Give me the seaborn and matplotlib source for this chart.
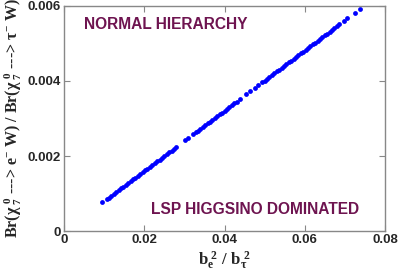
import matplotlib
matplotlib.use('Agg')
import matplotlib.pyplot as plt
import seaborn as sns
import pandas as pd

# values
ratio_b = [
    0.0095,
    0.0106, 0.0112, 0.0118, 0.0124, 0.0130, 0.0136, 0.0142, 0.0148, 0.0154, 0.0160,
    0.0166, 0.0172, 0.0178, 0.0184, 0.0190, 0.0196, 0.0202, 0.0208, 0.0214, 0.0220,
    0.0226, 0.0232, 0.0238, 0.0244, 0.0250, 0.0256, 0.0262, 0.0268, 0.0274, 0.0280,
    0.0302, 0.0309,
    0.0322, 0.0328, 0.0334, 0.0340, 0.0346, 0.0352, 0.0358, 0.0364, 0.0370, 0.0376,
    0.0382, 0.0388, 0.0394, 0.0400, 0.0406, 0.0412, 0.0418, 0.0424, 0.0430,
    0.0439, 0.0454, 0.0464, 0.0476, 0.0484,
    0.0494, 0.0500, 0.0506, 0.0512, 0.0518, 0.0524, 0.0530, 0.0536, 0.0542, 0.0548,
    0.0554, 0.0560, 0.0566, 0.0572, 0.0578, 0.0584, 0.0590, 0.0596, 0.0602, 0.0608,
    0.0614, 0.0620, 0.0626, 0.0632, 0.0638, 0.0644, 0.0650, 0.0656, 0.0662, 0.0668,
    0.0674, 0.0680, 0.0686,
    0.0698, 0.0706, 0.0725, 0.0738,
]
br_ratio = [
    0.000770,
    0.000850, 0.000898, 0.000946, 0.000994, 0.001043, 0.001091, 0.001139, 0.001187, 0.001235, 0.001283,
    0.001331, 0.001379, 0.001428, 0.001476, 0.001524, 0.001572, 0.001620, 0.001668, 0.001716, 0.001764,
    0.001813, 0.001861, 0.001909, 0.001957, 0.002005, 0.002053, 0.002101, 0.002149, 0.002197, 0.002246,
    0.002422, 0.002478,
    0.002582, 0.002631, 0.002679, 0.002727, 0.002775, 0.002823, 0.002871, 0.002919, 0.002967, 0.003016,
    0.003064, 0.003112, 0.003160, 0.003208, 0.003256, 0.003304, 0.003352, 0.003400, 0.003449,
    0.003521, 0.003641, 0.003721, 0.003818, 0.003882,
    0.003962, 0.004010, 0.004058, 0.004106, 0.004154, 0.004202, 0.004251, 0.004299, 0.004347, 0.004395,
    0.004443, 0.004491, 0.004539, 0.004587, 0.004636, 0.004684, 0.004732, 0.004780, 0.004828, 0.004876,
    0.004924, 0.004972, 0.005021, 0.005069, 0.005117, 0.005165, 0.005213, 0.005261, 0.005309, 0.005357,
    0.005405, 0.005454, 0.005502,
    0.005598, 0.005662, 0.005815, 0.005919,
]
x_ticks = [0, 0.02, 0.04, 0.06, 0.08]
x_labels = ['0', '0.02', '0.04', '0.06', '0.08']
y_ticks = [0, 0.002, 0.004, 0.006]
y_labels = ['0', '0.002', '0.004', '0.006']

sns.set_theme(style='white')
plt.rcParams['font.family'] = ['Liberation Sans', 'DejaVu Sans']
plt.rcParams['mathtext.fontset'] = 'custom'
plt.rcParams['mathtext.rm'] = 'Liberation Serif:bold'
plt.rcParams['mathtext.it'] = 'Liberation Serif:bold'
plt.rcParams['mathtext.bf'] = 'Liberation Serif:bold'

df = pd.DataFrame({'b': ratio_b, 'br': br_ratio})

fig = plt.figure(figsize=(3.99, 2.73), dpi=100)
ax = fig.add_axes([0.1604, 0.1527, 0.8046, 0.8263])

sns.scatterplot(data=df, x='b', y='br', ax=ax, color='#0000ff', s=12,
                linewidth=0, legend=False)

ax.set_xlim(0, 0.08)
ax.set_ylim(0, 0.006)
ax.set_xticks(x_ticks)
ax.set_xticklabels(x_labels, fontweight='bold', fontsize=9.5)
ax.set_yticks(y_ticks)
ax.set_yticklabels(y_labels, fontweight='bold', fontsize=9.5)
ax.tick_params(direction='in', length=4, width=0.8, color='#888888',
               top=True, right=True, bottom=True, left=True, pad=2)
for sp in ax.spines.values():
    sp.set_color('#888888')
    sp.set_linewidth(1.0)

serif = ['Liberation Serif', 'DejaVu Serif']
ax.set_xlabel(r'$\mathbf{b_e^{\ 2}\ /\ b_\tau^{\ 2}}$', fontsize=12, labelpad=2)
ax.set_ylabel(r'Br($\chi_{\ 7}^{\ 0}$ ---> e$^{-}$ W) / Br($\chi_{\ 7}^{\ 0}$ ---> $\tau^{-}$ W)',
              family=serif, fontweight='bold', fontsize=11.5, labelpad=3)

purple = '#6e1450'
ax.text(0.062, 0.95, 'NORMAL HIERARCHY', transform=ax.transAxes, color=purple,
        fontsize=11.2, fontweight='bold', va='top', ha='left')
ax.text(0.92, 0.065, 'LSP HIGGSINO DOMINATED', transform=ax.transAxes, color=purple,
        fontsize=11.2, fontweight='bold', va='bottom', ha='right')

fig.savefig('out.png', dpi=100)
